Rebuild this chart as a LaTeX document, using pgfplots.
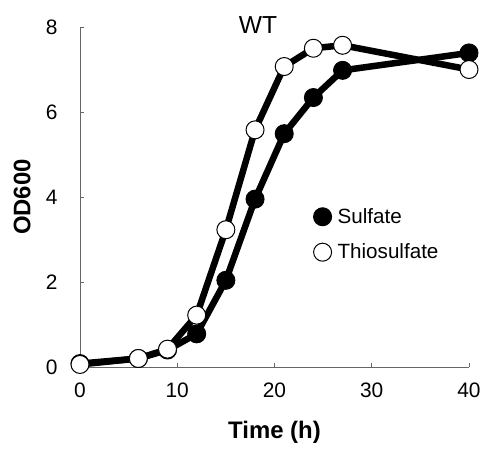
\documentclass[border=0pt]{standalone}
\usepackage{pgfplots}
\pgfplotsset{compat=1.18}
\usepackage{fontspec}
\setmainfont{Liberation Sans}
\begin{document}
\begin{tikzpicture}
\useasboundingbox (0,0) rectangle (486bp,453bp);
\begin{axis}[
  at={(80bp,86bp)}, anchor=south west,
  scale only axis, width=389bp, height=340bp,
  xmin=0, xmax=40, ymin=0, ymax=8,
  axis x line=bottom, axis y line=left,
  axis line style={-, draw=black!60, line width=0.9pt},
  tick align=inside, major tick length=4bp,
  tick style={draw=black!60, line width=0.9pt},
  xtick={0,10,20,30,40}, ytick={0,2,4,6,8},
  /pgf/number format/assume math mode=true,
  ticklabel style={font=\fontsize{21}{25}\selectfont},
  xticklabel style={yshift=-12bp},
  yticklabel style={xshift=-19bp},
  xlabel={\textbf{Time (h)}}, ylabel={\textbf{OD600}},
  label style={font=\fontsize{24}{28}\selectfont},
  xlabel style={at={(axis description cs:0.5,-0.191)}, anchor=center},
  ylabel style={at={(axis description cs:-0.149,0.5)}, anchor=center},
  clip=false,
  legend style={at={(axis cs:24.0,3.78)}, anchor=north west, draw=none, fill=none,
    font=\fontsize{20.7}{24}\selectfont, row sep=15bp, column sep=4bp, inner sep=0pt},
  legend cell align=left,
]
\addplot[black, line width=6.5bp, line join=round, mark=*, mark size=9bp,
  mark options={fill=black, draw=black, line width=1pt}, forget plot]
  coordinates {(0,0.08) (6,0.2) (9,0.4) (12,0.78) (15,2.04) (18,3.95) (21,5.49) (24,6.34) (27,6.98) (40,7.39)};
\addplot[black, line width=6.5bp, line join=round, mark=*, mark size=9bp,
  mark options={fill=white, draw=black, line width=1pt}, forget plot]
  coordinates {(0,0.06) (6,0.2) (9,0.42) (12,1.22) (15,3.23) (18,5.58) (21,7.07) (24,7.5) (27,7.57) (40,7.0)};
\addlegendimage{only marks, mark=*, mark size=9bp, mark options={fill=black, draw=black, line width=1pt}}
\addlegendentry{Sulfate}
\addlegendimage{only marks, mark=*, mark size=9bp, mark options={fill=white, draw=black, line width=1pt}}
\addlegendentry{Thiosulfate}
\node[font=\fontsize{24.7}{28}\selectfont] at (axis cs:18.3,8.05) {WT};
\end{axis}
\end{tikzpicture}
\end{document}
